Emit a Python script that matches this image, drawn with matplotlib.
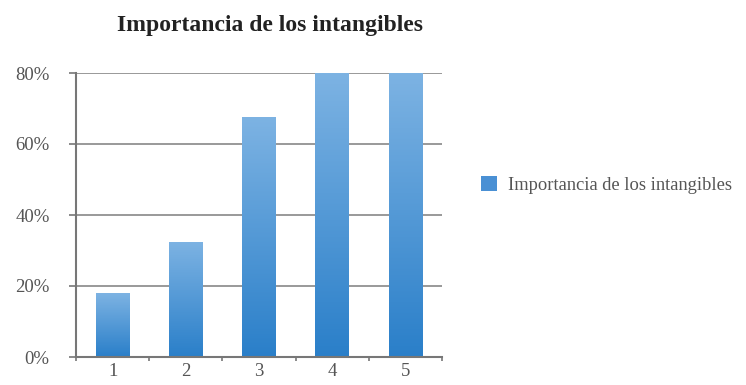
import numpy as np
import matplotlib
matplotlib.use("Agg")
import matplotlib.pyplot as plt
from matplotlib.colors import LinearSegmentedColormap
from matplotlib.patches import Patch

categories = ["1", "2", "3", "4", "5"]
values = [18, 32.5, 67.5, 80, 80]
series_name = "Importancia de los intangibles"
title = "Importancia de los intangibles"
yticks = [0, 20, 40, 60, 80]

plt.rcParams['font.family'] = ['Liberation Serif', 'DejaVu Serif']

fig = plt.figure(figsize=(7.46, 3.85), dpi=100)
ax = fig.add_axes([76/746, 28/385, 366/746, 284/385])

x = np.arange(len(categories))
bars = ax.bar(x, values, width=0.46, color='#4a90d4', zorder=3)

cmap = LinearSegmentedColormap.from_list("g", ["#2a7fc9", "#7db3e3"])
grad = np.linspace(0, 1, 256).reshape(-1, 1)
for b in bars:
    bx, by = b.get_x(), b.get_y()
    bw, bh = b.get_width(), b.get_height()
    im = ax.imshow(grad, cmap=cmap, aspect='auto', origin='lower',
                   extent=[bx, bx + bw, by, by + bh], zorder=4)
    im.set_clip_path(b)

ax.set_xlim(-0.5, len(categories) - 0.5)
ax.set_ylim(0, 80)
ax.set_yticks(yticks)
ax.set_yticklabels([f"{v}%" for v in yticks], fontsize=13.5, color='#555555')
ax.set_xticks(x)
ax.set_xticklabels(categories, fontsize=13.5, color='#555555')
ax.set_xticks(np.arange(len(categories) + 1) - 0.5, minor=True)
ax.tick_params(axis='x', which='major', length=0, pad=4)
ax.tick_params(axis='x', which='minor', length=3, color='#777777', width=1.2)
ax.tick_params(axis='y', length=5, color='#777777', width=1.2, pad=14)

ax.yaxis.grid(True, color='#888888', linewidth=1.2, zorder=0)
for s in ['top', 'right']:
    ax.spines[s].set_visible(False)
for s in ['left', 'bottom']:
    ax.spines[s].set_color('#777777')
    ax.spines[s].set_linewidth(1.5)
ax.spines['left'].set_zorder(5)
ax.spines['bottom'].set_zorder(5)

fig.text(270/746, 1 - 26/385, title, ha='center', va='center',
         fontsize=17, fontweight='bold', color='#222222')

handle = Patch(facecolor='#4a90d4', edgecolor='none')
fig.legend([handle], [series_name], loc='center left',
           bbox_to_anchor=(464/746, 1 - 185/385), frameon=False,
           fontsize=13.3, handlelength=0.9, handleheight=0.9,
           handletextpad=0.6, labelcolor='#555555')

fig.savefig("out.png", dpi=100)
